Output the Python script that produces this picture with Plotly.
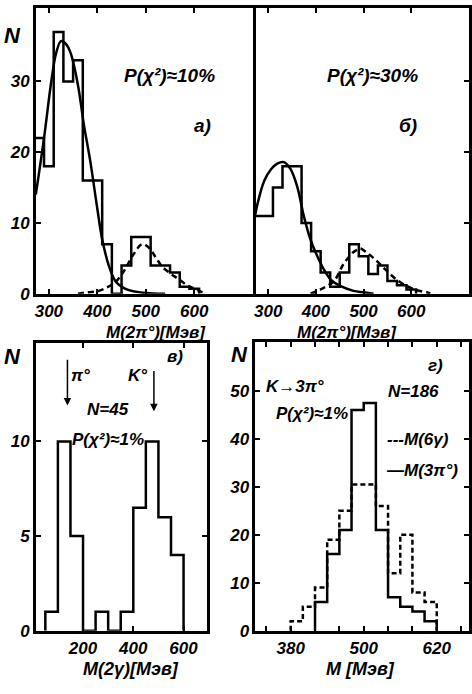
import plotly.graph_objects as go

# ---------------- data ----------------
# panel a (а): M(2pi0) histogram, 20 MeV bins
a_edges = [270, 290, 310, 330, 350, 370, 390, 410, 430, 450, 470, 490, 510, 530, 550, 570, 590, 610]
a_counts = [22, 18, 37, 30, 33, 16, 16, 7, 0, 4, 8, 8, 4, 4, 3, 1, 0.7]
a_fit_x = [273, 290, 305, 315, 325, 335, 345, 360, 372, 386, 400, 410, 424, 437, 450, 465, 500, 540]
a_fit_y = [14, 22, 30, 34, 35.7, 35.3, 34, 29.5, 24, 18.5, 12, 7.7, 3.9, 1.8, 1.0, 0.5, 0.1, 0]
a_bg_x = [360, 380, 403, 420, 437, 450, 461, 475, 492, 505, 520, 533, 550, 567, 585, 601, 622]
a_bg_y = [0, 0.2, 0.4, 0.9, 1.6, 2.7, 3.9, 5.6, 7.0, 6.6, 5.2, 3.9, 2.9, 2.1, 1.2, 0.7, 0.05]

# panel b (б)
b_edges = [270, 290, 310, 330, 350, 370, 390, 410, 430, 450, 470, 490, 510, 530, 550, 570, 590, 610]
b_counts = [11, 11, 15, 18, 18, 10, 6, 3, 1, 3, 7, 5.3, 2.8, 4, 1.8, 1.2, 0.6]
b_fit_x = [269, 278, 292, 306, 319, 333, 347, 361, 375, 389, 403, 417, 431, 451, 479, 500, 521]
b_fit_y = [9.7, 12.8, 16.0, 17.6, 18.4, 18.6, 17.6, 15.1, 10.9, 7.6, 5.3, 3.4, 2.0, 1.1, 0.4, 0.2, 0]
b_bg_x = [389, 410, 438, 458, 479, 490, 493, 507, 528, 549, 569, 590, 611, 632, 640]
b_bg_y = [0, 0.6, 1.8, 4.2, 5.9, 6.3, 6.4, 5.8, 4.6, 3.2, 2.0, 1.1, 0.5, 0.2, 0.05]

# panel v (в): M(2 gamma), 50 MeV bins
v_edges = [50, 100, 150, 200, 250, 300, 350, 400, 450, 500, 550, 600]
v_counts = [1, 10, 5, 0, 1, 0, 1, 6.5, 10, 6, 4]

# panel g (г): K -> 3pi0
g6_edges = [380, 400, 420, 440, 460, 480, 500, 520, 540, 560, 580, 600, 620]
g6_counts = [2, 5, 9, 19, 25, 30.5, 30.5, 26, 12, 20, 8, 6]
g3_edges = [420, 440, 460, 480, 500, 520, 540, 560, 580, 600, 620]
g3_counts = [6, 16, 21, 46, 47.5, 21, 7, 5, 4, 2]

a_xticks = [300, 400, 500, 600]
a_yticks = [0, 10, 20, 30]
v_xticks = [200, 400, 600]
v_yticks = [0, 5, 10]
g_xticks = [340, 380, 420, 460, 500, 540, 580, 620, 660]
g_xlabels = ["", "380", "", "", "500", "", "", "620", ""]
g_yticks = [0, 10, 20, 30, 40, 50]

# ---------------- helpers ----------------
W, H = 472, 694
FONT = "Liberation Sans Narrow, Liberation Sans, sans-serif"


def px(x):
    return x / W


def py(y):
    return 1 - y / H


def steps(edges, counts):
    xs = [edges[0]] + list(edges)
    ys = [0] + list(counts) + [0]
    return xs, ys


def bfont(size):
    return dict(family=FONT, size=size, color="black", weight="bold", style="italic")


fig = go.Figure()

LW = 2.5


def hist(edges, counts, xa, ya, dash="solid"):
    xs, ys = steps(edges, counts)
    fig.add_trace(go.Scatter(x=xs, y=ys, mode="lines", line_shape="hv",
                             line=dict(color="black", width=LW, dash=dash),
                             xaxis=xa, yaxis=ya, showlegend=False, hoverinfo="skip"))


def curve(x, y, xa, ya, dash="solid"):
    fig.add_trace(go.Scatter(x=x, y=y, mode="lines", line_shape="spline",
                             line=dict(color="black", width=LW, dash=dash),
                             xaxis=xa, yaxis=ya, showlegend=False, hoverinfo="skip"))


hist(a_edges, a_counts, "x", "y")
curve(a_fit_x, a_fit_y, "x", "y")
curve(a_bg_x, a_bg_y, "x", "y", dash="6px,4px")

hist(b_edges, b_counts, "x2", "y2")
curve(b_fit_x, b_fit_y, "x2", "y2")
curve(b_bg_x, b_bg_y, "x2", "y2", dash="6px,4px")

hist(v_edges, v_counts, "x3", "y3")

hist(g6_edges, g6_counts, "x4", "y4", dash="5px,3px")
hist(g3_edges, g3_counts, "x4", "y4")

axcommon = dict(showline=True, linecolor="black", linewidth=2.5, mirror=True,
                showgrid=False, zeroline=False, ticks="inside", ticklen=5,
                tickwidth=1.5, tickcolor="black", tickfont=bfont(17))

fig.update_layout(
    width=W, height=H, margin=dict(l=0, r=0, t=0, b=0),
    paper_bgcolor="white", plot_bgcolor="white", showlegend=False,
    xaxis=dict(axcommon, domain=[px(35), px(254)], range=[273, 722], anchor="y",
               tickvals=a_xticks, mirror="ticks"),
    yaxis=dict(axcommon, domain=[py(298), py(8)], range=[0, 40.4], anchor="x",
               tickvals=a_yticks),
    xaxis2=dict(axcommon, domain=[px(254), px(471)], range=[269, 721], anchor="y2",
                tickvals=a_xticks, mirror="ticks"),
    yaxis2=dict(axcommon, domain=[py(298), py(8)], range=[0, 40.4], anchor="x2",
                tickvals=a_yticks, side="right", showticklabels=False, mirror=False),
    xaxis3=dict(axcommon, domain=[px(35), px(207)], range=[12, 692], anchor="y3",
                tickvals=v_xticks, mirror="ticks"),
    yaxis3=dict(axcommon, domain=[py(640), py(348)], range=[0, 15.2], anchor="x3",
                tickvals=v_yticks, mirror="ticks"),
    xaxis4=dict(axcommon, domain=[px(256), px(471)], range=[322, 673], anchor="y4",
                tickvals=g_xticks, ticktext=g_xlabels, mirror="ticks"),
    yaxis4=dict(axcommon, domain=[py(640), py(347)], range=[0, 60.2], anchor="x4",
                tickvals=g_yticks, mirror="ticks"),
)


def note(text, x, y, xref, yref, size=17, **kw):
    fig.add_annotation(text=text, x=x, y=y, xref=xref, yref=yref, showarrow=False,
                       xanchor="center", yanchor="middle", font=bfont(size), **kw)


# axis titles (paper coords)
note("N", px(12), py(36), "paper", "paper", size=22)
note("N", px(12), py(362), "paper", "paper", size=22)
note("N", px(240), py(360), "paper", "paper", size=22)
note("M(2π°)[Мэв]", px(156), py(337), "paper", "paper", size=17)
note("M(2π°)[Мэв]", px(348), py(337), "paper", "paper", size=17)
note("M(2γ)[Мэв]", px(131), py(679), "paper", "paper", size=18)
note("M [Мэв]", px(362), py(679), "paper", "paper", size=18)

# panel a
note("P(χ²)≈10%", 548, 30.8, "x", "y", size=19)
note("а)", 616, 23.8, "x", "y", size=19)
# panel b
note("P(χ²)≈30%", 519, 30.8, "x2", "y2", size=19)
note("б)", 594, 23.8, "x2", "y2", size=19)
# panel v
note("в)", 565, 14.5, "x3", "y3")
note("π°", 189, 13.5, "x3", "y3")
note("K°", 415, 13.5, "x3", "y3")
note("N=45", 300, 11.7, "x3", "y3")
note("P(χ²)≈1%", 300, 10.1, "x3", "y3")
fig.add_annotation(x=138, y=11.9, ax=138, ay=14.4, xref="x3", yref="y3",
                   axref="x3", ayref="y3", showarrow=True, arrowhead=2,
                   arrowwidth=1.5, arrowcolor="black", text="")
fig.add_annotation(x=482, y=11.6, ax=482, ay=13.8, xref="x3", yref="y3",
                   axref="x3", ayref="y3", showarrow=True, arrowhead=2,
                   arrowwidth=1.5, arrowcolor="black", text="")
# panel g
note("г)", 618, 55.4, "x4", "y4")
note("K→3π°", 387, 50.9, "x4", "y4")
note("N=186", 582, 49.9, "x4", "y4")
note("P(χ²)≈1%", 415, 45.2, "x4", "y4")
note("---M(6γ)", 590, 39.8, "x4", "y4")
note("—M(3π°)", 595, 33.5, "x4", "y4")

fig.write_html(
    "out.html",
    config={"displayModeBar": False},
    post_script="document.documentElement.style.overflow='hidden';"
                "document.body.style.margin='0';document.body.style.overflow='hidden';",
)
